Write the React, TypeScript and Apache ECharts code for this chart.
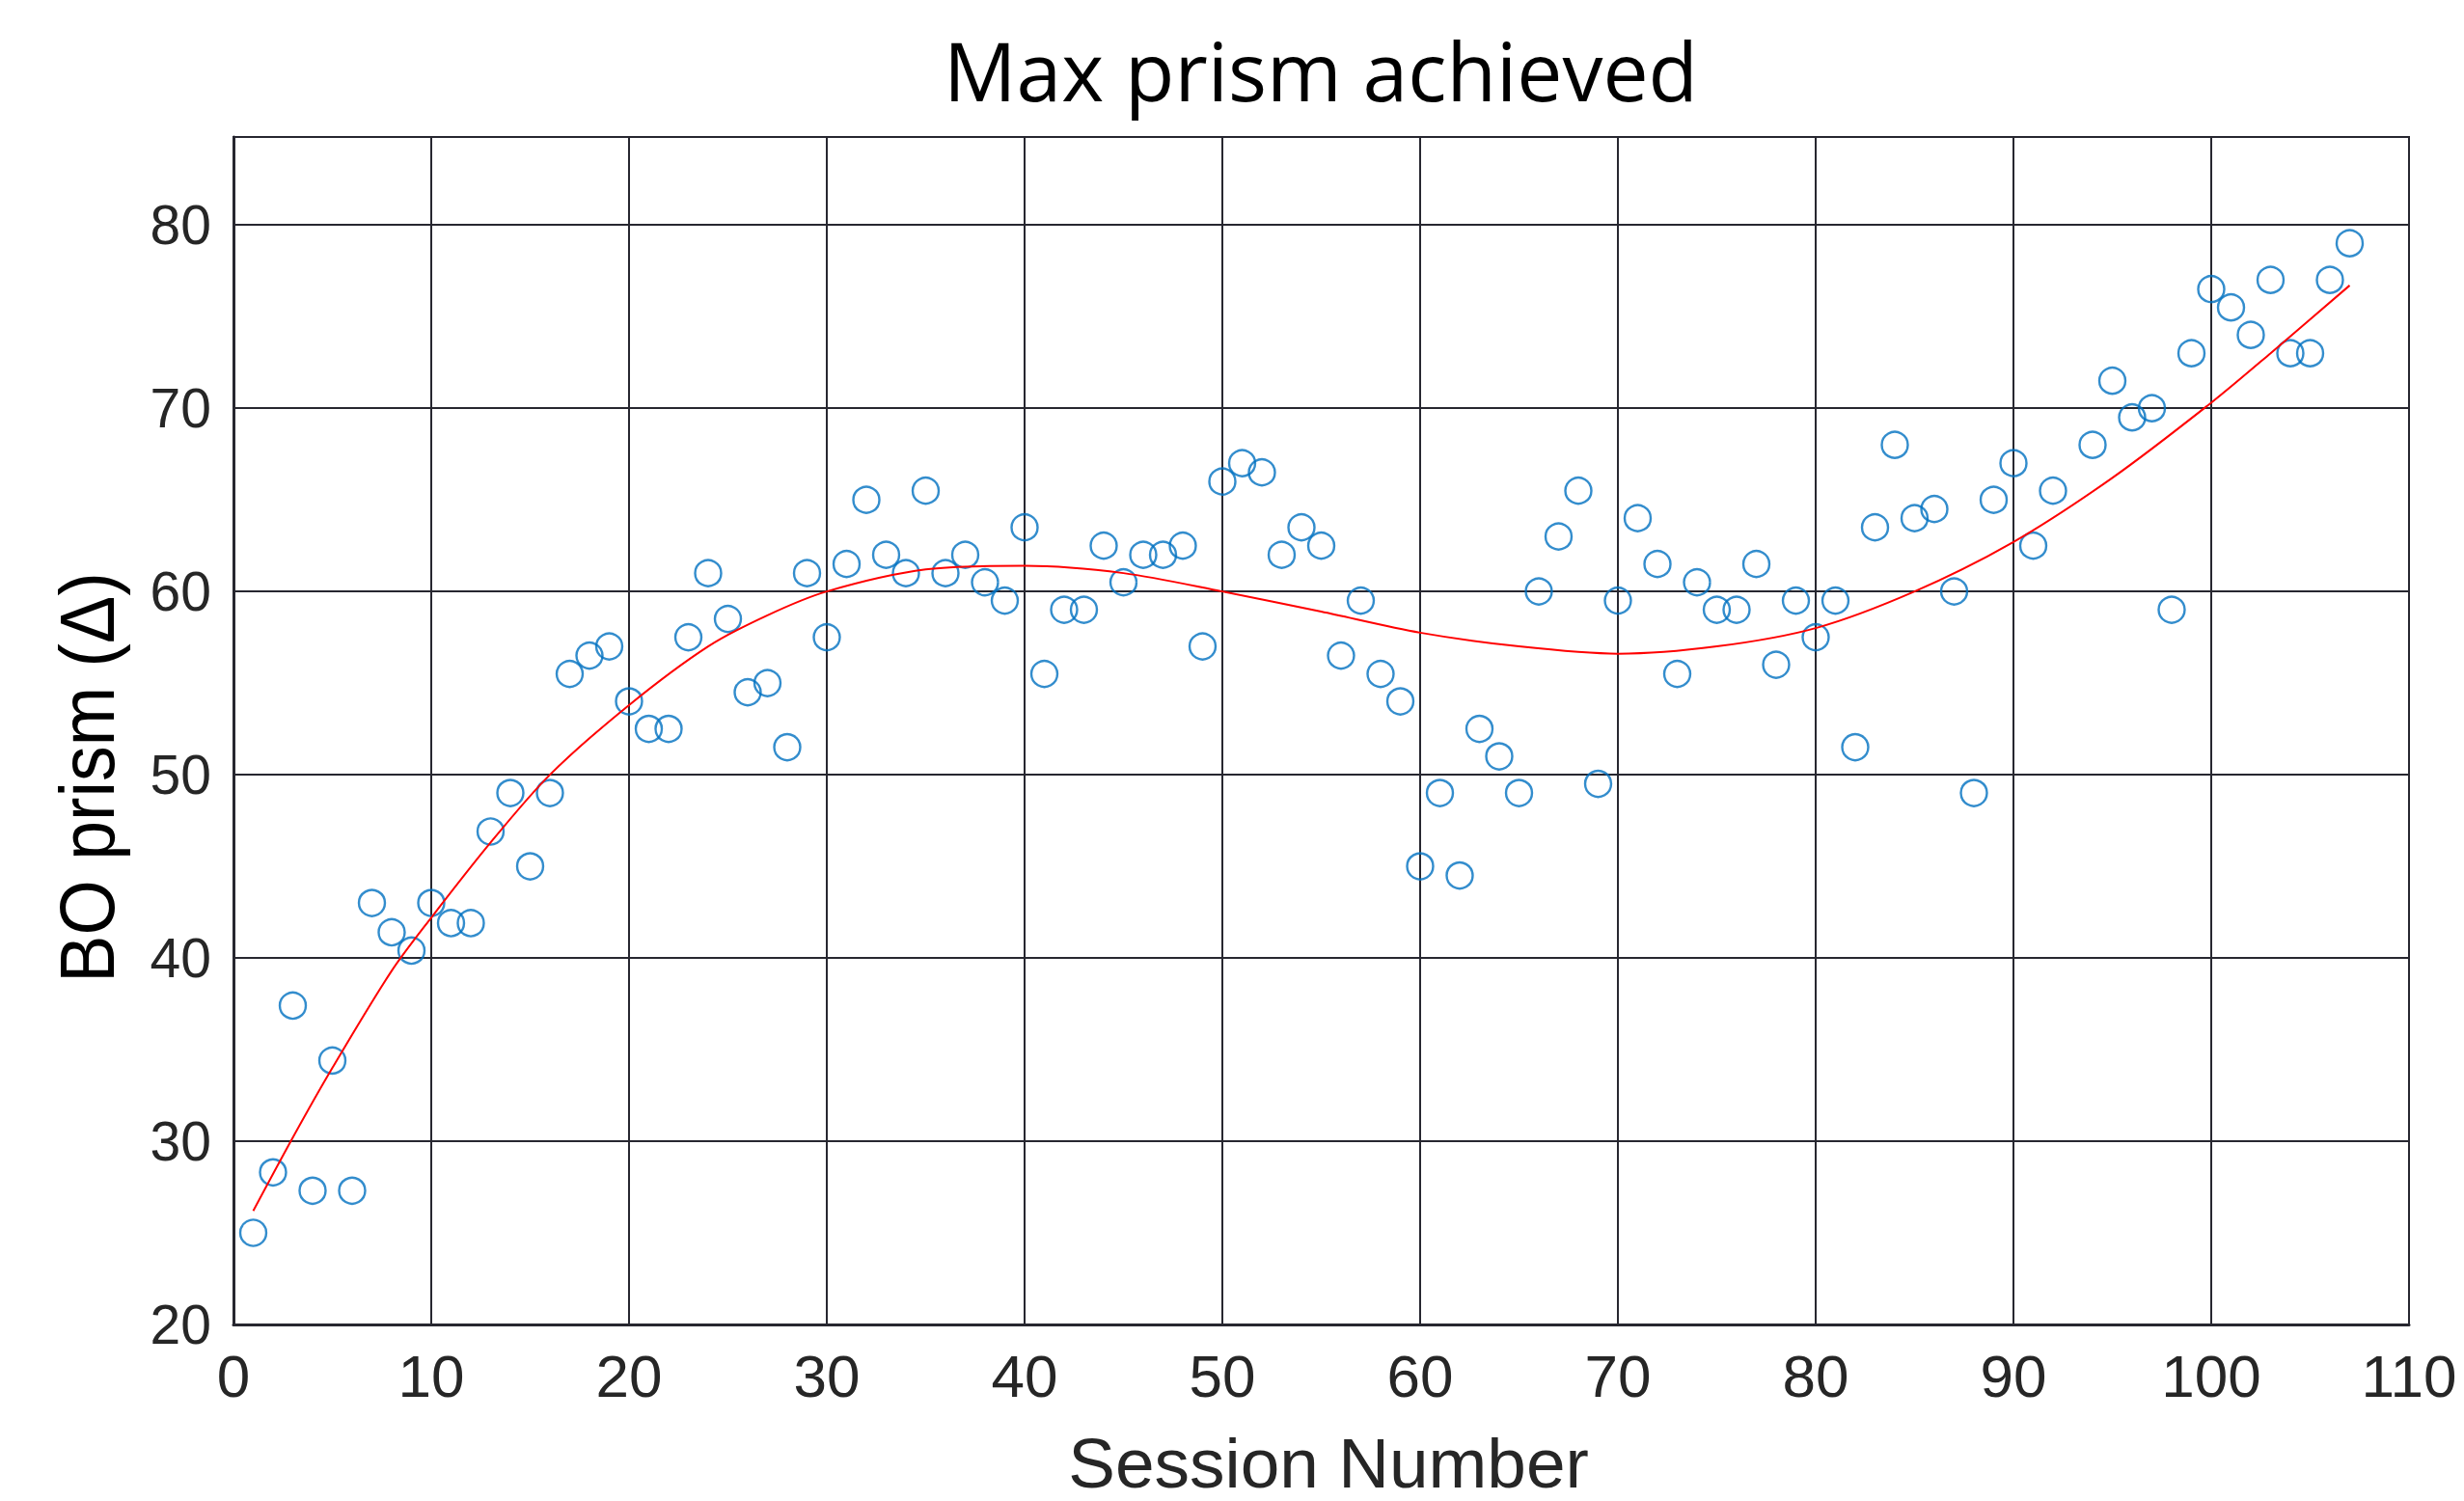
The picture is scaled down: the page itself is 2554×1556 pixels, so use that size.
import React, { useEffect, useRef } from "react";
import * as echarts from "echarts";

const sessions = [
  1, 2, 3, 4, 5, 6, 7, 8, 9, 10, 11, 12, 13, 14, 15, 16, 17, 18, 19, 20,
  21, 22, 23, 24, 25, 26, 27, 28, 29, 30, 31, 32, 33, 34, 35, 36, 37, 38, 39, 40,
  41, 42, 43, 44, 45, 46, 47, 48, 49, 50, 51, 52, 53, 54, 55, 56, 57, 58, 59, 60,
  61, 62, 63, 64, 65, 66, 67, 68, 69, 70, 71, 72, 73, 74, 75, 76, 77, 78, 79, 80,
  81, 82, 83, 84, 85, 86, 87, 88, 89, 90, 91, 92, 94, 95, 96, 97, 98, 99, 100,
  101, 102, 103, 104, 105, 106, 107,
];
const prism = [
  25, 28.3, 37.4, 27.3, 34.4, 27.3, 43, 41.4, 40.4, 43, 41.9, 41.9, 46.9, 49, 45, 49, 55.5, 56.5, 57, 54,
  52.5, 52.5, 57.5, 61, 58.5, 54.5, 55, 51.5, 61, 57.5, 61.5, 65, 62, 61, 65.5, 61, 62, 60.5, 59.5, 63.5,
  55.5, 59, 59, 62.5, 60.5, 62, 62, 62.5, 57, 66, 67, 66.5, 62, 63.5, 62.5, 56.5, 59.5, 55.5, 54, 45,
  49, 44.5, 52.5, 51, 49, 60, 63, 65.5, 49.5, 59.5, 64, 61.5, 55.5, 60.5, 59, 59, 61.5, 56, 59.5, 57.5,
  59.5, 51.5, 63.5, 68, 64, 64.5, 60, 49, 65, 67, 62.5, 65.5, 68, 71.5, 69.5, 70, 59, 73, 76.5,
  75.5, 74, 77, 73, 73, 77, 79,
];

const trendSessions = [1, 3, 5, 8, 10, 13, 16, 20, 24, 27, 30, 35, 40, 45, 50, 55, 60, 65, 70, 75, 80, 85, 90, 95, 100, 103, 107];
const trendValues = [26.2, 30.2, 34.0, 39.3, 42.2, 46.3, 50.0, 53.8, 57.0, 58.7, 60.0, 61.2, 61.4, 61.0, 60.0, 58.9, 57.75, 57.0, 56.6, 57.0, 58.0, 60.0, 62.7, 66.2, 70.3, 73.0, 76.7];

const titleText = "Max prism achieved";
const xAxisTitle = "Session Number";
const yAxisTitle = "BO prism (\u0394)";

export default function App() {
  const ref = useRef<HTMLDivElement>(null);
  useEffect(() => {
    const chart = echarts.init(ref.current as HTMLDivElement, null, { renderer: "svg" });
    const gridColor = "#272730";
    chart.setOption({
      animation: false,
      backgroundColor: "#ffffff",
      grid: {
        left: 242,
        right: 57,
        top: 142,
        bottom: 183,
        show: true,
        borderColor: gridColor,
        borderWidth: 2,
        backgroundColor: "transparent",
      },
      xAxis: {
        type: "value",
        min: 0,
        max: 110,
        interval: 10,
        axisLine: { show: true, onZero: false, lineStyle: { color: gridColor, width: 3 } },
        axisTick: { show: false },
        splitLine: { show: true, lineStyle: { color: gridColor, width: 2 } },
        axisLabel: {
          color: "#262626",
          fontFamily: "Liberation Sans",
          fontSize: 62,
          margin: 22,
        },
      },
      yAxis: {
        type: "value",
        min: 20,
        max: 84.8,
        interval: 10,
        axisLine: { show: true, onZero: false, lineStyle: { color: gridColor, width: 3 } },
        axisTick: { show: false },
        splitLine: { show: true, lineStyle: { color: gridColor, width: 2 } },
        axisLabel: {
          color: "#262626",
          fontFamily: "Liberation Sans",
          fontSize: 57,
          margin: 23,
          showMaxLabel: false,
        },
      },
      graphic: [
        {
          type: "text",
          x: 1369,
          y: 72,
          style: {
            text: titleText,
            fontFamily: "Open Sans",
            fontSize: 84,
            fill: "#000000",
            textAlign: "center",
            textVerticalAlign: "middle",
          },
        },
        {
          type: "text",
          x: 1377,
          y: 1516,
          style: {
            text: xAxisTitle,
            fontFamily: "Liberation Sans",
            fontSize: 73,
            lineHeight: 76,
            fill: "#262626",
            textAlign: "center",
            textVerticalAlign: "middle",
          },
        },
        {
          type: "text",
          x: 90,
          y: 806,
          rotation: Math.PI / 2,
          scaleX: 0.92,
          style: {
            text: yAxisTitle,
            fontFamily: "Liberation Sans",
            fontSize: 80,
            fill: "#000000",
            textAlign: "center",
            textVerticalAlign: "middle",
          },
        },
      ],
      series: [
        {
          type: "scatter",
          data: sessions.map((s, i) => [s, prism[i]]),
          symbol: "circle",
          symbolSize: 27,
          itemStyle: {
            color: "rgba(255,255,255,0)",
            borderColor: "#0070C0",
            borderWidth: 2.4,
          },
          emphasis: { disabled: true },
          z: 3,
        },
        {
          type: "line",
          data: trendSessions.map((s, i) => [s, trendValues[i]]),
          smooth: 0.3,
          showSymbol: false,
          symbol: "none",
          lineStyle: { color: "#ff0000", width: 2 },
          emphasis: { disabled: true },
          z: 4,
        },
      ],
    });
    return () => chart.dispose();
  }, []);
  return (
    <div
      ref={ref}
      style={{ position: "absolute", left: 0, top: 0, width: 2554, height: 1556, background: "#ffffff" }}
    />
  );
}
